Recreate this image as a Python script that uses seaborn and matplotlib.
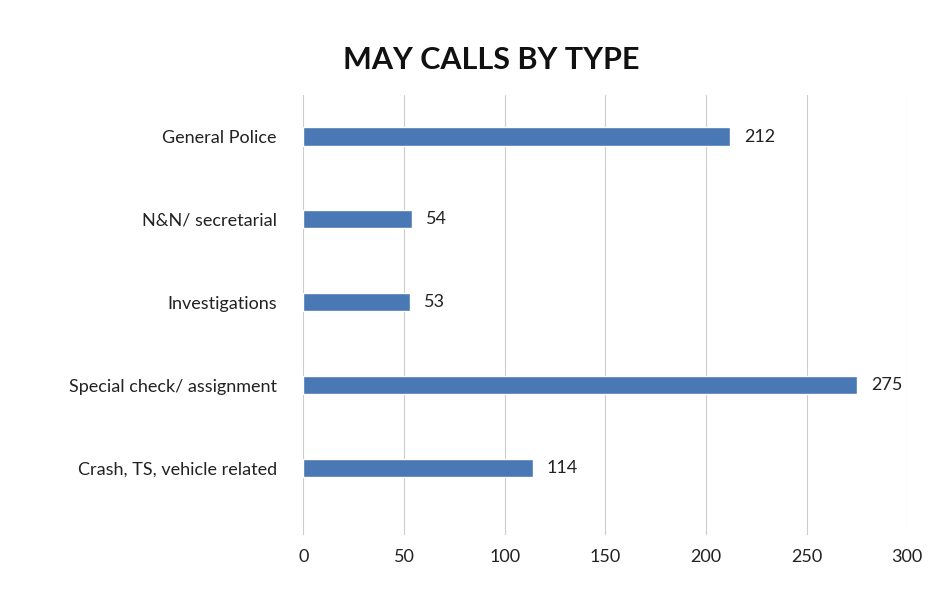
import matplotlib
matplotlib.use("Agg")
import matplotlib.pyplot as plt
import seaborn as sns
import pandas as pd

categories = ["General Police", "N&N/ secretarial", "Investigations",
              "Special check/ assignment", "Crash, TS, vehicle related"]
values = [212, 54, 53, 275, 114]
xticks = [0, 50, 100, 150, 200, 250, 300]

df = pd.DataFrame({"type": categories, "calls": values})

sns.set_theme(style="white")
plt.rcParams["font.family"] = ["Lato", "DejaVu Sans"]

fig = plt.figure(figsize=(9.48, 5.92), dpi=100)
ax = fig.add_axes([0.32, 0.0963, 0.637, 0.743])

sns.barplot(data=df, x="calls", y="type", orient="h", color="#4A78B4",
            width=0.22, ax=ax, saturation=1)

ax.set_xlim(0, 300)
ax.set_ylim(4.81, -0.5)
ax.set_xticks(xticks)
ax.set_xticklabels([str(t) for t in xticks], fontsize=13, color="#222222")
ax.tick_params(axis="x", length=0, pad=10)
ax.tick_params(axis="y", length=0, pad=19, labelsize=13, labelcolor="#222222")
ax.grid(axis="x", color="#cccccc", linewidth=0.8)
ax.set_axisbelow(True)
for s in ax.spines.values():
    s.set_visible(False)
ax.set_xlabel("")
ax.set_ylabel("")

for i, v in enumerate(values):
    ax.text(v + 7, i, str(v), va="center", ha="left", fontsize=13, color="#222222")

fig.text(0.518, 0.898, "MAY CALLS BY TYPE", ha="center", va="center",
         fontsize=22, fontweight="bold", color="#111111")

fig.savefig("out.png", dpi=100, facecolor="white")
